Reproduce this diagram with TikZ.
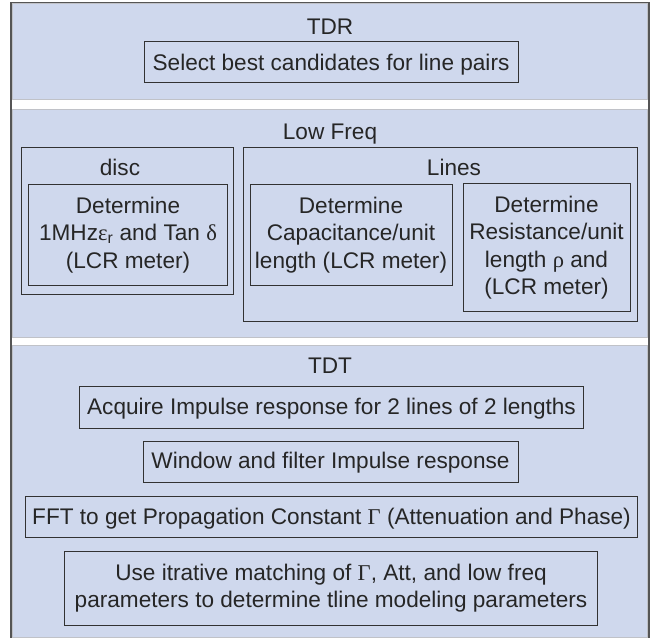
\documentclass[tikz,border=0pt]{standalone}
\usepackage{fontspec}
\setmainfont{Liberation Sans}
\newfontfamily\grk{Liberation Serif}
\definecolor{panelfill}{RGB}{207,216,237}
\definecolor{panelline}{RGB}{192,194,200}
\definecolor{frameline}{RGB}{85,85,85}
\definecolor{boxline}{RGB}{50,50,50}
\begin{document}
\begin{tikzpicture}[x=1bp,y=-1bp,
  every node/.style={font=\fontsize{22.6bp}{27.5bp}\selectfont,text=black!85},
  frame/.style={draw=frameline,line width=1.2bp,inner sep=0pt},
  panel/.style={draw=panelline,fill=panelfill,line width=1bp,inner sep=0pt},
  group/.style={draw=boxline,line width=1bp,inner sep=0pt},
  stepbox/.style={draw=boxline,line width=1bp,align=center,inner xsep=1bp,inner ysep=0pt},
  pad/.style={execute at begin node={\rule{0pt}{#1}}},
  title/.style={inner sep=0pt,anchor=base}]
\useasboundingbox (0,0) rectangle (650,638);
%%
  % Node: outer frame
  \node[frame,minimum width=638bp,minimum height=637bp] (outer) at (330,321.5) {};
  % Node: TDR
  \node[panel,minimum width=634bp,minimum height=96bp] (tdr) at (330,52) {};
  \node[title] (tdr title) at (330,35) {TDR};
  \node[stepbox,pad=20bp,minimum width=374bp,minimum height=41bp] (select) at (331,62.5)
    {Select best candidates for line pairs};
  % Node: Low Freq
  \node[panel,minimum width=634bp,minimum height=227bp] (lowfreq) at (330,223.5) {};
  \node[title] (lowfreq title) at (330,140) {Low Freq};
  % Node: disc
  \node[group,minimum width=211bp,minimum height=146bp] (disc) at (127.5,221) {};
  \node[title] (disc title) at (120,176) {disc};
  \node[stepbox,pad=25bp,minimum width=198bp,minimum height=101bp] (permittivity) at (128,235)
    {Determine\\1MHz{\grk ε}\textsubscript{r} and Tan {\grk δ}\\(LCR meter)};
  % Node: Lines
  \node[group,minimum width=394bp,minimum height=173bp] (lines) at (440,234.5) {};
  \node[title] (lines title) at (454,176) {Lines};
  \node[stepbox,pad=25bp,minimum width=202bp,minimum height=101bp] (capacitance) at (351,235)
    {Determine\\Capacitance/unit\\length (LCR meter)};
  \node[stepbox,pad=27bp,minimum width=167bp,minimum height=127bp] (resistance) at (546.5,247.5)
    {Determine\\Resistance/unit\\length {\grk ρ} and\\(LCR meter)};
  % Node: TDT
  \node[panel,minimum width=634bp,minimum height=292bp] (tdt) at (330,491) {};
  \node[title] (tdt title) at (330,373) {TDT};
  \node[stepbox,pad=20bp,minimum width=503bp,minimum height=42bp] (acquire) at (331.5,407)
    {Acquire Impulse response for 2 lines of 2 lengths};
  \node[stepbox,pad=19bp,minimum width=375bp,minimum height=41bp] (window) at (330.5,461.5)
    {Window and filter Impulse response};
  \node[stepbox,pad=20bp,minimum width=611bp,minimum height=41bp] (fft) at (331.5,516.5)
    {FFT to get Propagation Constant {\grk Γ} (Attenuation and Phase)};
  \node[stepbox,minimum width=532bp,minimum height=74bp] (matching) at (331,588)
    {Use itrative matching of {\grk Γ}, Att, and low freq\\parameters to determine tline modeling parameters};
%
\end{tikzpicture}
\end{document}
